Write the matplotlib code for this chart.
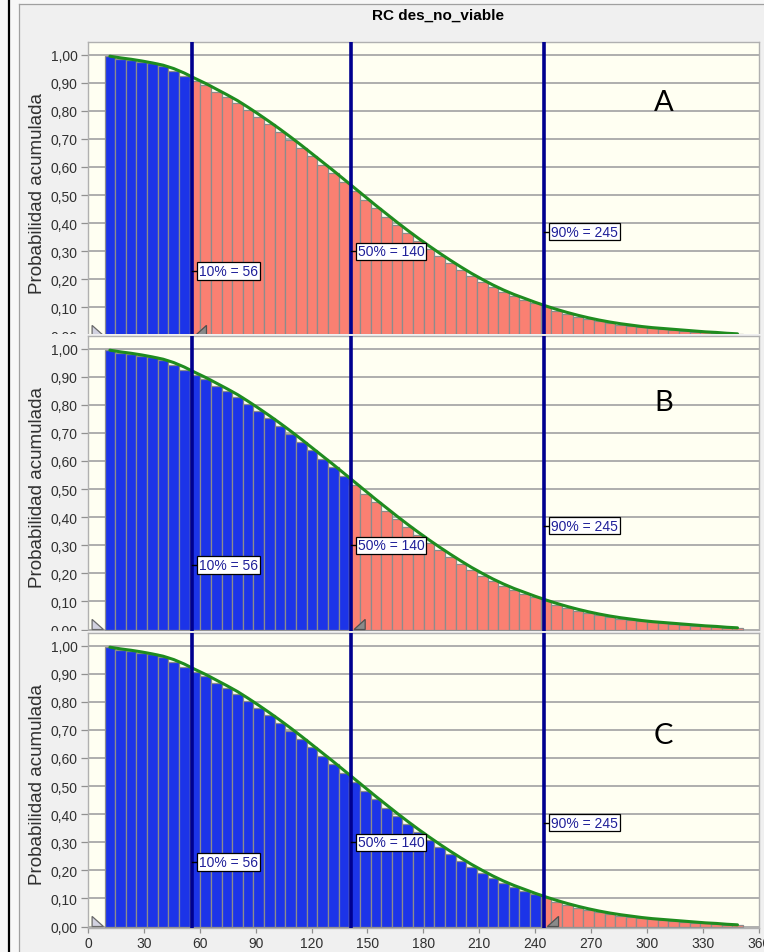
import matplotlib
matplotlib.use("Agg")
import matplotlib.pyplot as plt
from matplotlib.patches import Rectangle, Polygon
from matplotlib.lines import Line2D
from matplotlib.ticker import FuncFormatter

W, H = 764, 953

# histogram bins (value of the left edge of the first bin, bin width)
bin_start = 8.9
bin_width = 5.71

# cumulative probability per bin (bars)
bar_heights = [
    0.996, 0.985, 0.980, 0.974, 0.968, 0.958, 0.940, 0.923, 0.907, 0.890,
    0.867, 0.849, 0.828, 0.802, 0.777, 0.751, 0.723, 0.695, 0.667, 0.638,
    0.608, 0.578, 0.547, 0.515, 0.484, 0.453, 0.423, 0.393, 0.364, 0.336,
    0.309, 0.283, 0.258, 0.234, 0.211, 0.192, 0.172, 0.155, 0.140, 0.127,
    0.114, 0.101, 0.088, 0.077, 0.067, 0.058, 0.050, 0.044, 0.038, 0.033,
    0.029, 0.025, 0.022, 0.019, 0.016, 0.013, 0.011, 0.009, 0.007, 0.005,
]

# fitted curve (green), one point per bin centre
curve_heights = [
    0.994, 0.988, 0.983, 0.977, 0.970, 0.962, 0.950, 0.934, 0.915, 0.897,
    0.877, 0.857, 0.836, 0.812, 0.787, 0.761, 0.734, 0.706, 0.677, 0.647,
    0.617, 0.587, 0.556, 0.525, 0.494, 0.463, 0.433, 0.403, 0.374, 0.346,
    0.319, 0.293, 0.268, 0.244, 0.221, 0.200, 0.180, 0.162, 0.146, 0.132,
    0.118, 0.105, 0.093, 0.082, 0.072, 0.063, 0.055, 0.048, 0.042, 0.037,
    0.032, 0.028, 0.025, 0.022, 0.019, 0.016, 0.013, 0.011, 0.008, 0.006,
]

# percentile markers
pct_names = ["10%", "50%", "90%"]
pct_values = [56.0, 141.2, 245.0]
pct_shown = ["56", "140", "245"]
pct_label_y = [0.23, 0.30, 0.37]

# one panel per certainty range (blue up to the marker, salmon after)
panel_names = ["A", "B", "C"]
panel_split = [56.0, 141.2, 245.0]
panel_tops = [43, 337, 634]          # px from top of the image
panel_letter_y = [0.831, 0.81, 0.68]

BLUE = "#1c34e8"
SALMON = "#fa8072"
NAVY = "#00008f"
GREEN = "#1f8c1f"
WINDOW = "#f0f0f0"
PLOTBG = "#fffff2"

plt.rcParams["font.family"] = ["Liberation Sans", "DejaVu Sans"]


def fig_rect(x0, y0, x1, y1):
    return [x0 / W, 1 - y1 / H, (x1 - x0) / W, (y1 - y0) / H]


def comma_fmt(v, pos):
    return f"{v:.2f}".replace(".", ",")


def draw_panel(fig, idx):
    top = panel_tops[idx]
    z = 2 * idx + 1

    # window background; later windows hide the bottom of earlier ones
    win_top = 5 if idx == 0 else top - 2
    fig.add_artist(Rectangle((19 / W, 0), (W - 19) / W, 1 - win_top / H,
                             transform=fig.transFigure, facecolor=WINDOW,
                             edgecolor="none", zorder=z))

    ax = fig.add_axes(fig_rect(88, top, 759, top + 295))
    ax.set_zorder(z + 1)
    ax.set_facecolor(PLOTBG)

    split = panel_split[idx]
    lefts = [bin_start + i * bin_width for i in range(len(bar_heights))]
    centres = [x + bin_width / 2 for x in lefts]
    colors = [BLUE if c < split else SALMON for c in centres]

    ax.bar(lefts, bar_heights, width=bin_width, align="edge", color=colors,
           edgecolor="#8c8c8c", linewidth=0.9, zorder=2)
    ax.plot(centres, curve_heights, color=GREEN, lw=2.2, zorder=4,
            solid_capstyle="round")

    for name, v, shown, ly in zip(pct_names, pct_values, pct_shown, pct_label_y):
        ax.axvline(v, color=NAVY, lw=2.6, zorder=5)
        ax.plot([v, v + 3.3], [ly, ly], color="black", lw=1.0, zorder=6)
        ax.text(v + 3.6, ly, f"{name} = {shown}", fontsize=10, color="#1f1f99",
                va="center", ha="left", zorder=7,
                bbox=dict(boxstyle="square,pad=0.12", fc="white", ec="black", lw=0.9))

    # range grabbers at the bottom
    ax.add_patch(Polygon([(2.2, 0.0), (2.2, 0.036), (8.3, 0.0)], closed=True,
                         fc="#d2d2e0", ec="#6a6a6a", lw=0.9, zorder=6, clip_on=False))
    ax.add_patch(Polygon([(split + 1.6, 0.0), (split + 7.6, 0.036), (split + 7.6, 0.0)],
                         closed=True, fc="#8a8a8a", ec="#505050", lw=0.9, zorder=6,
                         clip_on=False))

    ax.text(309, panel_letter_y[idx], panel_names[idx], fontsize=21,
            family=["Lato", "DejaVu Sans"], ha="center", va="center", zorder=8)

    ax.set_xlim(0, 360.2)
    ax.set_ylim(-0.0053, 1.0445)
    ax.set_yticks([i / 10 for i in range(11)])
    ax.yaxis.set_major_formatter(FuncFormatter(comma_fmt))
    ax.grid(axis="y", color="#a8a8a8", lw=1.3, zorder=0)
    ax.set_axisbelow(True)
    ax.tick_params(axis="y", length=4.8, width=0.9, color="#909090", pad=2.5,
                   labelsize=10, labelcolor="#303030")
    ax.set_xticks(range(0, 361, 30))
    if idx == 2:
        ax.tick_params(axis="x", length=3.5, width=0.9, color="#909090", pad=2.5,
                       labelsize=10, labelcolor="#303030")
    else:
        ax.tick_params(axis="x", length=0, labelbottom=False)
    for s in ax.spines.values():
        s.set_color("#b0b0b0")
        s.set_linewidth(1.0)

    ax.set_ylabel("Probabilidad acumulada", fontsize=13.5, color="#303030")
    ax.yaxis.set_label_coords(-0.063, 0.49)
    return ax


def main():
    fig = plt.figure(figsize=(W / 100, H / 100), dpi=100)
    fig.patch.set_facecolor("#f7f7f7")

    for i in range(len(panel_names)):
        draw_panel(fig, i)

    fig.text(438 / W, 1 - 16 / H, "RC des_no_viable", fontsize=11, weight="bold",
             ha="center", va="center", zorder=20)

    # window borders
    fig.add_artist(Line2D([9 / W, 9 / W], [0, 1], color="black", lw=1.6,
                          transform=fig.transFigure, zorder=20))
    fig.add_artist(Line2D([18.5 / W, 18.5 / W], [0, 1 - 5 / H], color="#a0a0a0", lw=0.9,
                          transform=fig.transFigure, zorder=20))
    fig.add_artist(Line2D([18.5 / W, 1], [1 - 5 / H, 1 - 5 / H], color="#a0a0a0", lw=0.9,
                          transform=fig.transFigure, zorder=20))

    fig.savefig("out.png", dpi=100, facecolor=fig.get_facecolor())
    plt.close(fig)


if __name__ == "__main__":
    main()
